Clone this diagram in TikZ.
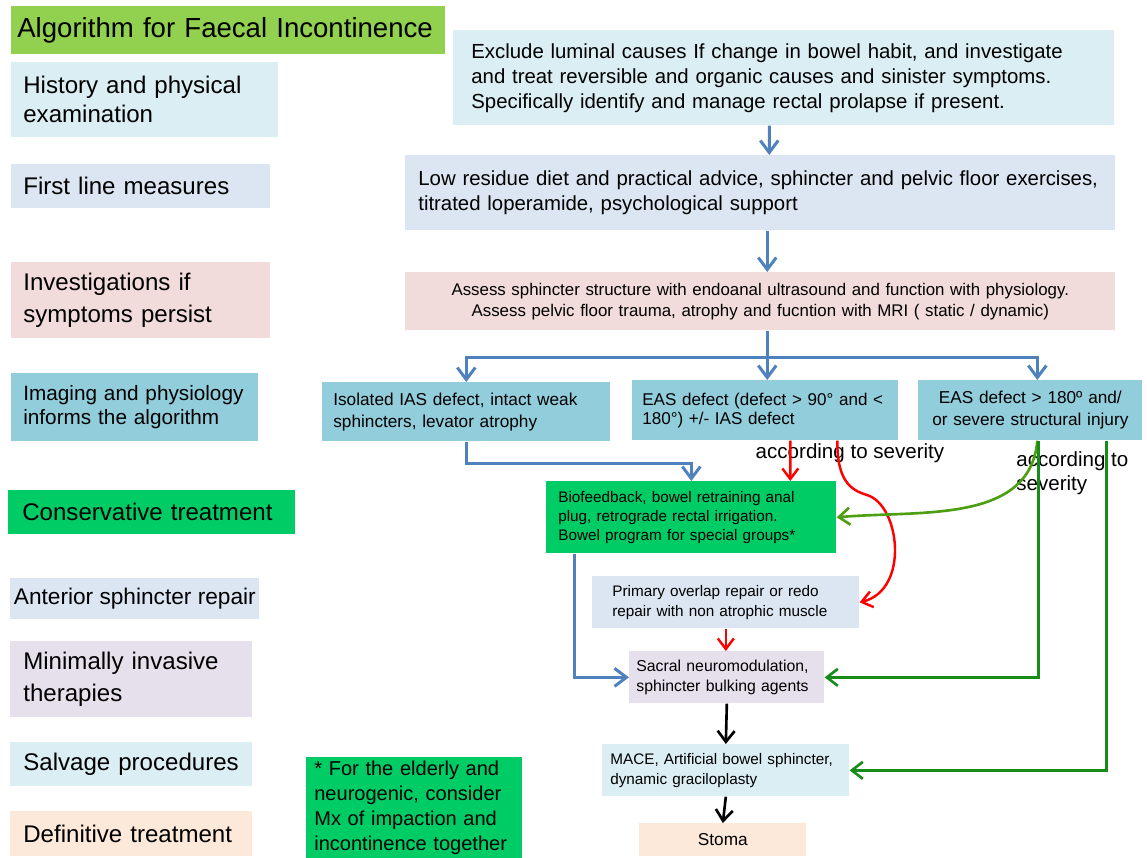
\documentclass[tikz,border=0pt]{standalone}
\usepackage{fontspec}
\setmainfont{Liberation Sans}
\usetikzlibrary{arrows.meta,positioning}
\definecolor{titlegreen}{RGB}{146, 208, 80}
\definecolor{paleblue}{RGB}{219, 238, 244}
\definecolor{greyblue}{RGB}{220, 230, 242}
\definecolor{rosepink}{RGB}{242, 220, 219}
\definecolor{skyblue}{RGB}{146, 205, 220}
\definecolor{consgreen}{RGB}{0, 204, 102}
\definecolor{lavender}{RGB}{229, 224, 236}
\definecolor{peach}{RGB}{253, 233, 217}
\definecolor{edgeblue}{RGB}{79, 129, 189}
\definecolor{curvegreen}{RGB}{78, 158, 18}
\definecolor{edgegreen}{RGB}{24, 140, 24}
\tikzstyle{stage} = [rectangle, anchor=north west, inner ysep=0pt, text=black, align=left, font=\fontsize{13.7}{16}\selectfont]
\tikzstyle{flow} = [rectangle, anchor=north west, inner ysep=0pt, text=black, align=left, font=\fontsize{8.7}{11.2}\selectfont]
\tikzstyle{sevtext} = [text=black, align=left, inner sep=0pt, font=\fontsize{11.7}{13.6}\selectfont]
\tikzstyle{tline} = [draw=edgeblue, line width=1.7pt]
\tikzstyle{tedge} = [draw=edgeblue, line width=1.7pt, -{Straight Barb[length=2.4mm,width=3.6mm]}]
\tikzstyle{redge} = [draw=red, line width=1.4pt, -{Straight Barb[length=2.1mm,width=3.2mm]}]
\tikzstyle{gedge} = [draw=edgegreen, line width=1.5pt, -{Straight Barb[length=2.2mm,width=3.4mm]}]
\tikzstyle{kedge} = [draw=black, line width=1.5pt, -{Straight Barb[length=2.2mm,width=3.4mm]}]

\begin{document}
\begin{tikzpicture}[x=0.02cm, y=-0.02cm]
\useasboundingbox (0,0) rectangle (1147,858);

% stages =============================

\node[stage, fill=titlegreen, minimum width=8.68cm, minimum height=0.96cm, text width=8.44cm, inner xsep=0.12cm, font=\fontsize{15.7}{18}\selectfont] (title) at (11,6) {Algorithm for Faecal Incontinence};
\node[stage, fill=paleblue, minimum width=5.34cm, minimum height=1.5cm, text width=4.86cm, inner xsep=0.24cm, font=\fontsize{13.7}{16.5}\selectfont] (hist) at (11,62) {History and physical\\examination};
\node[stage, fill=greyblue, minimum width=5.18cm, minimum height=0.88cm, text width=4.7cm, inner xsep=0.24cm] (first) at (11,164) {First line measures};
\node[stage, fill=rosepink, minimum width=5.18cm, minimum height=1.52cm, text width=4.7cm, inner xsep=0.24cm, font=\fontsize{13.7}{18}\selectfont] (invest) at (11,262) {Investigations if\\symptoms persist};
\node[stage, fill=skyblue, minimum width=4.94cm, minimum height=1.36cm, text width=4.46cm, inner xsep=0.24cm, font=\fontsize{11.8}{13.6}\selectfont] (imaging) at (11,373) {Imaging and physiology\\informs the algorithm};
\node[stage, fill=consgreen, minimum width=5.74cm, minimum height=0.88cm, text width=5.18cm, inner xsep=0.28cm] (cons) at (8,490) {Conservative treatment};
\node[stage, fill=greyblue, minimum width=4.98cm, minimum height=0.82cm, inner xsep=0.02cm, font=\fontsize{12.9}{16}\selectfont] (anterior) at (10,578) {Anterior sphincter repair};
\node[stage, fill=lavender, minimum width=4.84cm, minimum height=1.52cm, text width=4.32cm, inner xsep=0.26cm, font=\fontsize{13.7}{18}\selectfont] (minimal) at (10,641) {Minimally invasive\\therapies};
\node[stage, fill=paleblue, minimum width=4.84cm, minimum height=0.88cm, text width=4.32cm, inner xsep=0.26cm] (salvage) at (10,742) {Salvage procedures};
\node[stage, fill=peach, minimum width=4.84cm, minimum height=0.9cm, text width=4.32cm, inner xsep=0.26cm] (definitive) at (10,811) {Definitive treatment};
\node[stage, fill=consgreen, minimum width=4.32cm, minimum height=2.02cm, text width=4.0cm, inner xsep=0.16cm, font=\fontsize{11.4}{14.4}\selectfont] (elderly) at (306,757) {* For the elderly and\\neurogenic, consider\\Mx of impaction and\\incontinence together};

% pathway =============================

\node[flow, fill=paleblue, minimum width=13.22cm, minimum height=1.9cm, text width=12.5cm, inner xsep=0.36cm, font=\fontsize{11.6}{14.2}\selectfont] (exclude) at (453,30) {Exclude luminal causes If change in bowel habit, and investigate\\and treat reversible and organic causes and sinister symptoms.\\Specifically identify and manage rectal prolapse if present.};
\node[flow, fill=greyblue, minimum width=14.2cm, minimum height=1.5cm, text width=13.68cm, inner xsep=0.26cm, font=\fontsize{11.6}{14.2}\selectfont] (lowres) at (405,155) {Low residue diet and practical advice, sphincter and pelvic floor exercises,\\titrated loperamide, psychological support};
\node[flow, fill=rosepink, minimum width=14.2cm, minimum height=1.16cm, text width=13.68cm, inner xsep=0.26cm, align=center, font=\fontsize{9.6}{12}\selectfont] (assess) at (405,272) {Assess sphincter structure with endoanal ultrasound and function with physiology.\\Assess pelvic floor trauma, atrophy and fucntion with MRI ( static / dynamic)};

% imaging branches
\node[flow, fill=skyblue, minimum width=5.76cm, minimum height=1.18cm, text width=5.32cm, inner xsep=0.22cm, font=\fontsize{9.8}{12.5}\selectfont] (ias) at (322,382) {Isolated IAS defect, intact weak\\sphincters, levator atrophy};
\node[flow, fill=skyblue, minimum width=5.32cm, minimum height=1.2cm, text width=4.92cm, inner xsep=0.2cm, font=\fontsize{9.7}{11}\selectfont] (easmid) at (632,380) {EAS defect (defect > 90° and <\\180°) +/- IAS defect};
\node[flow, fill=skyblue, minimum width=4.48cm, minimum height=1.2cm, text width=4.28cm, inner xsep=0.1cm, align=center, font=\fontsize{9.8}{12.5}\selectfont] (eassev) at (918,380) {EAS defect > 180º and/\\or severe structural injury};

% treatments
\node[flow, fill=consgreen, minimum width=5.8cm, minimum height=1.44cm, text width=5.32cm, inner xsep=0.24cm, font=\fontsize{8.7}{10.8}\selectfont] (biofeed) at (546,481) {Biofeedback, bowel retraining anal\\plug, retrograde rectal irrigation.\\Bowel program for special groups*};
\node[flow, fill=greyblue, minimum width=5.34cm, minimum height=1.04cm, text width=4.54cm, inner xsep=0.4cm] (repair) at (592,576) {Primary overlap repair or redo\\repair with non atrophic muscle};
\node[flow, fill=lavender, minimum width=3.9cm, minimum height=1.04cm, text width=3.62cm, inner xsep=0.14cm, font=\fontsize{9.0}{11.2}\selectfont] (sacral) at (629,651) {Sacral neuromodulation,\\sphincter bulking agents};
\node[flow, fill=paleblue, minimum width=4.94cm, minimum height=1.04cm, text width=4.62cm, inner xsep=0.16cm] (mace) at (602,744) {MACE, Artificial bowel sphincter,\\dynamic graciloplasty};
\node[flow, fill=peach, minimum width=3.34cm, minimum height=0.66cm, text width=3.14cm, inner xsep=0.1cm, align=center, font=\fontsize{9.8}{12}\selectfont] (stoma) at (639,823) {Stoma};

% severity labels
\node[sevtext] (sevmid) at (850,453) {according to severity};
\node[sevtext, anchor=west] (sevright) at (1016,473) {according to\\severity};

%edges
\path[tedge] ([xshift=-0.29cm]exclude.south) -- ([xshift=0.18cm]lowres.north);
\path[tedge] ([xshift=0.14cm]lowres.south) -- ([xshift=0.14cm]assess.north);
\coordinate (split) at ([xshift=0.14cm, yshift=-0.54cm]assess.south);
\path[tline] ([xshift=0.14cm]assess.south) -- (split);
\path[tedge] (split) -| (ias.north);
\path[tedge] (split) -- (split |- easmid.north);
\path[tedge] (split) -| ([xshift=0.14cm]eassev.north);

\path[tedge] (ias.south) -- ++(0,22) -| (biofeed.north);
\path[redge] ([xshift=0.5cm]easmid.south) -- ([xshift=1.98cm]biofeed.north);
\path[redge] ([xshift=1.44cm]easmid.south) .. controls (837,480) and (850,490) .. (867,495) .. controls (900,505) and (910,590) .. (repair.east);
\path[gedge, draw=curvegreen] ([xshift=0.14cm]eassev.south) to[out=-95, in=5] (biofeed.east);
\path[gedge] ([xshift=0.16cm]eassev.south) |- (sacral.east);
\path[gedge] ([xshift=1.52cm]eassev.south) |- (mace.east);

\path[tedge] ([xshift=-2.34cm]biofeed.south) |- (sacral.west);
\path[redge] (repair.south) -- (repair.south |- sacral.north);
\path[kedge] (sacral.south) -- (mace.north);
\path[kedge] (mace.south) -- (stoma.north);

\end{tikzpicture}
\end{document}
